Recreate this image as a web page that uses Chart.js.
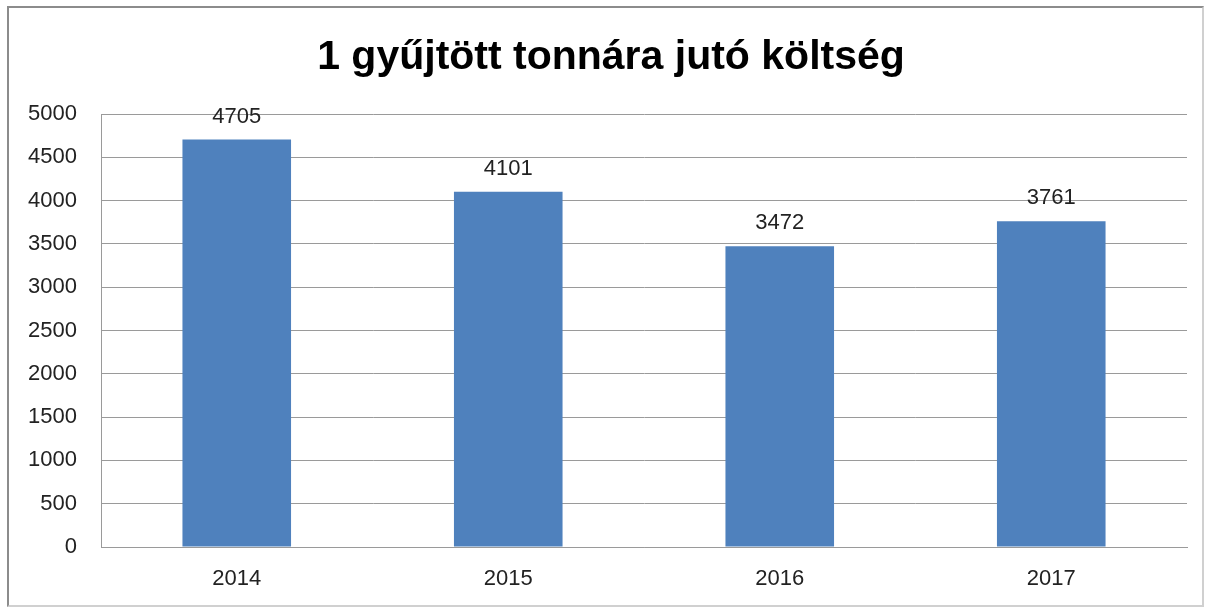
<!DOCTYPE html>
<html>
<head>
<meta charset="utf-8">
<script src="https://cdn.jsdelivr.net/npm/chart.js@4"></script>
<style>
  body { margin: 0; background: #fff; }
  #wrap { position: relative; width: 1212px; height: 610px; }
  #frame { position: absolute; left: 7px; top: 6px; width: 1197px; height: 601px; border: 2px solid #8c8c8c; border-bottom-color: #d0d0d0; border-right-color: #d0d0d0; box-sizing: border-box; pointer-events: none; }
  canvas { position: absolute; left: 0; top: 0; }
</style>
</head>
<body>
<div id="wrap">
  <canvas id="chartKoltseg" width="1212" height="610"></canvas>
  <div id="frame"></div>
</div>
<script>
const years = ["2014", "2015", "2016", "2017"];
const koltseg = [4705, 4101, 3472, 3761];
const yTicks = [0, 500, 1000, 1500, 2000, 2500, 3000, 3500, 4000, 4500, 5000];
const chartTitle = "1 gyűjtött tonnára jutó költség";

const fontFamily = "'Liberation Sans', Arial, sans-serif";
const gridColor = "#9a9a9a";

// Cím és értékcímkék
const labelsPlugin = {
  id: "labelsPlugin",
  afterDraw(chart) {
    const ctx = chart.ctx;
    ctx.save();
    ctx.font = "bold 41px " + fontFamily;
    ctx.fillStyle = "#000";
    ctx.textAlign = "center";
    ctx.textBaseline = "middle";
    ctx.fillText(chartTitle, 611, 58);

    ctx.font = "22px " + fontFamily;
    ctx.fillStyle = "#222";
    chart.getDatasetMeta(0).data.forEach((bar, i) => {
      ctx.fillText(String(koltseg[i]), bar.x, bar.y - 23);
    });
    ctx.restore();
  },
};

new Chart(document.getElementById("chartKoltseg"), {
  type: "bar",
  data: {
    labels: years,
    datasets: [
      {
        data: koltseg,
        backgroundColor: "#4F81BD",
        borderWidth: 0,
        categoryPercentage: 0.8,
        barPercentage: 0.5,
      },
    ],
  },
  options: {
    responsive: false,
    animation: false,
    layout: { padding: { left: 0, right: 25, top: 114, bottom: 0 } },
    plugins: {
      legend: { display: false },
      tooltip: { enabled: false },
      title: { display: false },
    },
    scales: {
      x: {
        grid: { display: false },
        border: { display: true, color: gridColor },
        ticks: { color: "#222", padding: 11, font: { family: fontFamily, size: 22 } },
        afterFit: (s) => { s.height = 63; },
      },
      y: {
        min: 0,
        max: 5000,
        afterBuildTicks: (s) => { s.ticks = yTicks.map((v) => ({ value: v })); },
        grid: { color: gridColor, drawTicks: false },
        border: { display: true, color: gridColor },
        ticks: {
          color: "#222",
          padding: 24,
          font: { family: fontFamily, size: 22 },
          callback: (v) => String(v),
        },
        afterFit: (s) => { s.width = 101; },
      },
    },
  },
  plugins: [labelsPlugin],
});
</script>
</body>
</html>
